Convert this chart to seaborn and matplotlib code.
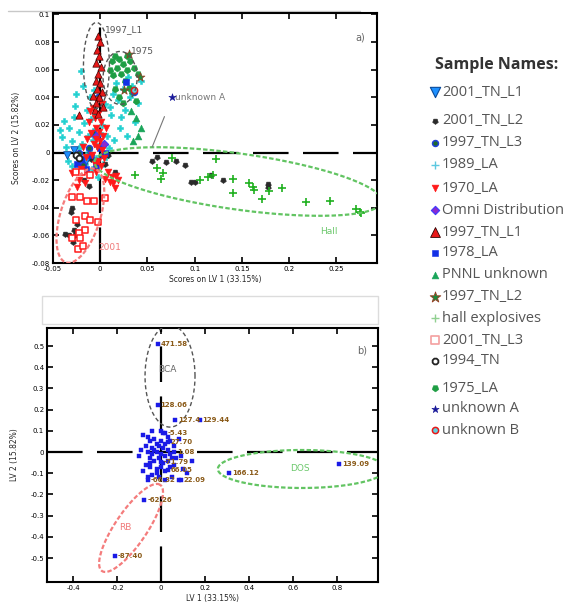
import numpy as np
import matplotlib
matplotlib.use("Agg")
import matplotlib.pyplot as plt
from matplotlib.patches import Rectangle
import seaborn as sns

# ---------------- panel a) scores on LV1 / LV2 ----------------
la1989_x = [-0.040, -0.036, -0.033, -0.030, -0.028, -0.027, -0.025, -0.023, -0.020, -0.019,
            -0.017, -0.016, -0.014, -0.013, -0.012, -0.011, -0.010, -0.009, -0.008, -0.007,
            -0.006, -0.005, -0.004, -0.003, -0.002, 0.002, 0.003, 0.005, 0.007, 0.009,
            0.011, 0.013, 0.015, 0.017, 0.019, 0.021, 0.024, 0.026, 0.029, 0.031,
            0.034, 0.037, 0.040, 0.043, -0.034, -0.030, -0.022, -0.018, -0.015, 0.000,
            0.006, 0.010, 0.022, 0.028, -0.026, -0.038, -0.043]
la1989_y = [0.011, 0.004, 0.018, 0.008, 0.026, 0.034, -0.003, 0.015, 0.059, 0.006,
            0.021, -0.008, 0.031, 0.012, 0.002, 0.040, 0.024, -0.012, 0.009, 0.045,
            0.017, -0.004, 0.028, 0.005, -0.018, 0.020, -0.008, 0.035, 0.012, 0.003,
            0.027, 0.042, 0.009, 0.050, 0.038, 0.018, 0.046, 0.031, 0.055, 0.040,
            0.048, 0.022, 0.036, 0.052, -0.006, -0.010, 0.003, 0.048, -0.002, 0.014,
            -0.003, 0.033, 0.026, 0.012, 0.042, 0.023, 0.016]

la1970_x = [-0.008, -0.006, -0.005, -0.004, -0.003, -0.002, -0.001, 0.000, 0.001, 0.002,
            0.003, -0.007, -0.010, -0.012, -0.009, -0.006, -0.004, -0.002, 0.004, 0.001,
            -0.014, -0.011, 0.006, -0.003, 0.002, -0.015, -0.018, -0.020, -0.022, -0.012,
            0.008, 0.012, 0.014, 0.017, 0.019, 0.016, 0.010, 0.005, -0.025, -0.016, -0.030]
la1970_y = [0.032, 0.025, 0.018, 0.010, 0.004, 0.028, 0.015, 0.008, 0.022, 0.002,
            0.012, 0.006, 0.014, 0.022, -0.002, -0.008, -0.014, -0.006, -0.004, -0.010,
            0.010, 0.030, 0.018, 0.038, 0.035, -0.003, 0.004, -0.012, -0.020, -0.016,
            -0.014, -0.018, -0.022, -0.017, -0.020, -0.026, -0.021, -0.019, -0.025, -0.022, -0.015]

tn1997_l1_x = [-0.002, 0.000, -0.003, -0.001, -0.004, 0.001, -0.002, -0.005, 0.000, -0.003,
               0.002, -0.001, -0.004, -0.006, -0.023, 0.003, -0.002, -0.008]
tn1997_l1_y = [0.084, 0.080, 0.074, 0.070, 0.065, 0.062, 0.057, 0.052, 0.050, 0.046,
               0.044, 0.040, 0.036, 0.031, 0.027, 0.033, 0.028, 0.041]

la1975_x = [0.012, 0.016, 0.020, 0.024, 0.028, 0.032, 0.036, 0.040, 0.010, 0.014,
            0.018, 0.022, 0.026, 0.030, 0.034, 0.038, 0.020, 0.016, 0.028, 0.024]
la1975_y = [0.066, 0.070, 0.068, 0.064, 0.070, 0.066, 0.061, 0.057, 0.060, 0.056,
            0.061, 0.057, 0.052, 0.047, 0.044, 0.037, 0.040, 0.046, 0.060, 0.036]

pnnl_x = [0.038, 0.040, 0.043, 0.035, 0.033]
pnnl_y = [0.025, 0.012, 0.018, 0.008, 0.030]

tn1997_l2_x = [0.030, 0.042, 0.025]
tn1997_l2_y = [0.071, 0.055, 0.045]

la1978_x = [0.027, -0.020, -0.010, 0.000, -0.015, -0.005, -0.025, 0.005]
la1978_y = [0.051, -0.005, -0.002, 0.003, -0.012, -0.010, -0.008, 0.000]

tn1997_l3_x = [-0.012, -0.004, -0.018, -0.008, 0.003, -0.022, -0.002, 0.036]
tn1997_l3_y = [0.003, -0.006, -0.009, 0.014, -0.002, 0.000, 0.040, 0.044]

tn2001_l1_x = [-0.015, -0.028, -0.035]
tn2001_l1_y = [-0.006, 0.002, -0.002]

omni_x = [-0.005, 0.004]
omni_y = [0.012, 0.006]

tn2001_l3_x = [-0.026, -0.019, -0.011, -0.030, -0.021, -0.014, -0.007, 0.005, -0.026, -0.016,
               -0.011, -0.016, -0.023, -0.030, -0.021, -0.024, -0.018, -0.002]
tn2001_l3_y = [-0.014, -0.014, -0.016, -0.032, -0.032, -0.035, -0.035, -0.033, -0.049, -0.046,
               -0.049, -0.056, -0.058, -0.062, -0.062, -0.070, -0.068, -0.050]

tn2001_l2_x = [-0.030, -0.031, -0.028, -0.027, -0.033, -0.029, -0.025, -0.037, -0.010, 0.005,
               0.008, -0.017, -0.012, 0.016, 0.055, 0.096, 0.090, 0.100, 0.117, 0.178,
               0.178, 0.060, 0.070, 0.080, 0.130]
tn2001_l2_y = [-0.040, -0.043, -0.056, -0.060, -0.060, -0.065, -0.052, -0.059, -0.005, -0.008,
               -0.002, -0.020, -0.024, -0.014, -0.006, -0.021, -0.009, -0.021, -0.016, -0.023,
               -0.025, -0.003, -0.007, -0.006, -0.020]

hall_x = [0.037, 0.060, 0.066, 0.064, 0.076, 0.106, 0.114, 0.119, 0.123, 0.141,
          0.141, 0.158, 0.162, 0.163, 0.171, 0.179, 0.192, 0.218, 0.243, 0.271,
          0.275, 0.276]
hall_y = [-0.016, -0.011, -0.015, -0.019, -0.004, -0.020, -0.018, -0.016, -0.005, -0.019,
          -0.029, -0.022, -0.025, -0.027, -0.034, -0.028, -0.026, -0.036, -0.035, -0.041,
          -0.043, -0.044]

tn1994_x = [-0.026, -0.022]
tn1994_y = [-0.002, -0.004]

unk_b_x = [0.036]
unk_b_y = [0.045]

unk_a_pos = (0.076, 0.040)

# ---------------- panel b) LV1 / LV2 with sample labels ----------------
b_cloud_x = [-0.08, -0.06, -0.05, -0.07, -0.04, -0.03, -0.02, -0.01, 0.00, 0.01,
             0.02, 0.03, -0.06, -0.04, -0.02, 0.00, 0.02, 0.04, -0.05, -0.03,
             -0.01, 0.01, 0.03, 0.05, -0.07, -0.05, -0.02, 0.00, 0.02, 0.04,
             0.06, -0.06, -0.04, -0.01, 0.02, 0.05, 0.08, 0.07, 0.09, 0.10,
             0.12, 0.14, -0.09, -0.10, -0.08, 0.01, 0.03, -0.04, 0.06, 0.08,
             -0.03, -0.05, 0.00, -0.02, 0.04]
b_cloud_y = [0.08, 0.07, 0.05, 0.03, 0.02, 0.06, 0.04, 0.03, 0.05, 0.02,
             0.04, 0.01, 0.00, -0.01, 0.00, -0.01, -0.02, -0.01, -0.03, -0.04,
             -0.03, -0.05, -0.04, -0.03, -0.06, -0.07, -0.08, -0.07, -0.09, -0.07,
             -0.06, -0.12, -0.11, -0.12, -0.13, -0.12, -0.13, -0.03, -0.02, -0.08,
             -0.10, -0.04, 0.01, -0.02, -0.09, 0.09, 0.07, 0.10, 0.03, 0.06,
             0.01, -0.05, 0.10, -0.10, 0.05]

b_lab_x = [-0.014, -0.014, 0.065, 0.175, 0.31, 0.81, -0.21, -0.075,
           0.02, 0.03, 0.06, 0.00, 0.03, -0.06, 0.09]
b_lab_y = [0.51, 0.22, 0.15, 0.15, -0.10, -0.056, -0.49, -0.225,
           0.09, 0.045, 0.0, -0.045, -0.085, -0.13, -0.13]
b_lab_txt = ["471.58", "128.06", "127.4", "129.44", "166.12", "139.09", "-87.40", "-62.26",
             "-5.43", "27.70", "1.08", "-71.79", "66.05", "-66.32", "22.09"]

# ---------------- legend entries ----------------
legend_names = ["2001_TN_L1", "2001_TN_L2", "1997_TN_L3", "1989_LA", "1970_LA",
                "Omni Distribution", "1997_TN_L1", "1978_LA", "PNNL unknown", "1997_TN_L2",
                "hall explosives", "2001_TN_L3", "1994_TN", "1975_LA", "unknown A", "unknown B"]

PENT_DOWN = (5, 0, 180)
styles = {
    "2001_TN_L1": dict(marker="v", color="#1e90ff", edgecolor="#0a4a9a", s=30, linewidth=0.6),
    "2001_TN_L2": dict(marker=PENT_DOWN, color="#2a2a2a", edgecolor="#2a2a2a", s=18, linewidth=0.4),
    "1997_TN_L3": dict(marker="o", color="#1f6a2a", edgecolor="#2040d8", s=18, linewidth=1.1),
    "1989_LA": dict(marker="P", color="#22d0d0", edgecolor="#22d0d0", s=20, linewidth=0.4),
    "1970_LA": dict(marker="v", color="#ff1a1a", edgecolor="#ff1a1a", s=24, linewidth=0.4),
    "Omni Distribution": dict(marker="D", color="#8a2ad0", edgecolor="#3a3aff", s=18, linewidth=0.8),
    "1997_TN_L1": dict(marker="^", color="#e81818", edgecolor="#400000", s=28, linewidth=0.5),
    "1978_LA": dict(marker="s", color="#1230e6", edgecolor="#1230e6", s=20, linewidth=0.4),
    "PNNL unknown": dict(marker="^", color="#1aa55a", edgecolor="#1aa55a", s=24, linewidth=0.4),
    "1997_TN_L2": dict(marker="*", color="#1c8a3c", edgecolor="#9a3a20", s=45, linewidth=0.5),
    "hall explosives": dict(marker="+", color="#1fb01f", s=40, linewidth=1.2),
    "2001_TN_L3": dict(marker="s", color="white", edgecolor="#ff1a1a", s=22, linewidth=1.1),
    "1994_TN": dict(marker="8", color="white", edgecolor="#222222", s=20, linewidth=1.3),
    "1975_LA": dict(marker=PENT_DOWN, color="#1f9e44", edgecolor="#1f9e44", s=24, linewidth=0.4),
    "unknown A": dict(marker="*", color="#1a1a9a", edgecolor="#1a1a9a", s=30, linewidth=0.4),
    "unknown B": dict(marker="o", color="#5fd0e0", edgecolor="#e81818", s=20, linewidth=1.1),
}

sns.set_style("ticks")
plt.rcParams["font.family"] = ["DejaVu Sans"]

W_PX, H_PX, DPI = 574, 606, 100
fig = plt.figure(figsize=(W_PX / DPI, H_PX / DPI), dpi=DPI)


def box(left, top, right, bottom):
    return [left / W_PX, 1 - bottom / H_PX, (right - left) / W_PX, (bottom - top) / H_PX]


# background overlay in pixel units for rules, the empty caption box and the key
bg = fig.add_axes([0, 0, 1, 1], zorder=0)
bg.set_xlim(0, W_PX)
bg.set_ylim(H_PX, 0)
bg.axis("off")
bg.plot([8, 360], [11, 11], color="#c8c8c8", lw=1.0)
bg.add_patch(Rectangle((42, 296), 336, 28, fill=False, edgecolor="#dcdcdc", lw=1.0))

ax1 = fig.add_axes(box(53, 13, 377, 263), zorder=2)
ax2 = fig.add_axes(box(47, 328, 378, 582), zorder=2)
ax1.set_xlim(-0.05, 0.293)
ax1.set_ylim(-0.08, 0.101)
ax2.set_xlim(-0.518, 0.986)
ax2.set_ylim(-0.613, 0.585)


def ring(ax, cx, cy, w_px, h_px, angle, **kw):
    """Ellipse given in screen pixels, centred on a data point."""
    bb = ax.get_position()
    wpx = bb.width * W_PX
    hpx = bb.height * H_PX
    x0, x1 = ax.get_xlim()
    y0, y1 = ax.get_ylim()
    sx, sy = wpx / (x1 - x0), hpx / (y1 - y0)
    t = np.linspace(0, 2 * np.pi, 240)
    a = np.radians(angle)
    u, v = w_px / 2 * np.cos(t), h_px / 2 * np.sin(t)
    px = u * np.cos(a) - v * np.sin(a)
    py = u * np.sin(a) + v * np.cos(a)
    ax.plot(cx + px / sx, cy + py / sy, **kw)


def zero_lines(ax):
    ax.axhline(0, color="black", lw=1.6, dashes=(16, 6.5), zorder=1)
    ax.axvline(0, color="black", lw=1.6, dashes=(16, 6.5), zorder=1)


def pts(ax, xs, ys, name, zorder=3):
    st = dict(styles[name])
    sns.scatterplot(x=xs, y=ys, ax=ax, legend=False, zorder=zorder, **st)


# ---- panel a ----
zero_lines(ax1)
pts(ax1, la1989_x, la1989_y, "1989_LA")
pts(ax1, tn2001_l2_x, tn2001_l2_y, "2001_TN_L2")
pts(ax1, hall_x, hall_y, "hall explosives")
pts(ax1, la1975_x, la1975_y, "1975_LA")
pts(ax1, pnnl_x, pnnl_y, "PNNL unknown")
pts(ax1, tn1997_l2_x, tn1997_l2_y, "1997_TN_L2")
pts(ax1, tn2001_l1_x, tn2001_l1_y, "2001_TN_L1")
pts(ax1, tn1997_l3_x, tn1997_l3_y, "1997_TN_L3")
pts(ax1, la1978_x, la1978_y, "1978_LA")
pts(ax1, omni_x, omni_y, "Omni Distribution")
pts(ax1, la1970_x, la1970_y, "1970_LA")
pts(ax1, tn1997_l1_x, tn1997_l1_y, "1997_TN_L1")
pts(ax1, tn2001_l3_x, tn2001_l3_y, "2001_TN_L3")
pts(ax1, tn1994_x, tn1994_y, "1994_TN")
pts(ax1, unk_b_x, unk_b_y, "unknown B")

ring(ax1, -0.004, 0.063, 26, 86, 0, color="#555555", lw=1.0, dashes=(3, 2), zorder=4)
ring(ax1, 0.021, 0.054, 34, 53, 0, color="#555555", lw=1.0, dashes=(3, 2), zorder=4)
ring(ax1, 0.146, -0.021, 290, 56, -8, color="#62c462", lw=1.6, dashes=(2, 1), zorder=4)
ring(ax1, -0.021, -0.0457, 98, 40, 73, color="#f47c7c", lw=1.6, dashes=(2, 1), zorder=4)

ax1.text(0.0055, 0.089, "1997_L1", fontsize=6.5, color="#555555", va="center")
ax1.text(0.032, 0.073, "1975", fontsize=6.5, color="#555555", va="center")
ax1.text(0.233, -0.057, "Hall", fontsize=6.5, color="#6cc86c", va="center")
ax1.text(-0.002, -0.069, "2001", fontsize=6.5, color="#f07a7a", va="center")
ax1.text(0.270, 0.083, "a)", fontsize=7, color="#666666", va="center")

# unknown A marker with its leader line
ax1.plot([0.068, 0.055], [0.026, 0.004], color="#777777", lw=0.8, zorder=4)
sns.scatterplot(x=[unk_a_pos[0]], y=[unk_a_pos[1]], ax=ax1, legend=False, zorder=5,
                **styles["unknown A"])
ax1.text(unk_a_pos[0] + 0.003, unk_a_pos[1], "unknown A", fontsize=6.5,
         color="#777777", va="center")

ax1.set_xticks([-0.05, 0, 0.05, 0.1, 0.15, 0.2, 0.25])
ax1.set_xticklabels(["-0.05", "0", "0.05", "0.1", "0.15", "0.2", "0.25"])
ax1.set_yticks([-0.08, -0.06, -0.04, -0.02, 0, 0.02, 0.04, 0.06, 0.08, 0.1])
ax1.set_yticklabels(["-0.08", "-0.06", "-0.04", "-0.02", "0", "0.02", "0.04", "0.06", "0.08", "0.1"])
ax1.set_xlabel("Scores on LV 1 (33.15%)", fontsize=5.5, labelpad=2)
ax1.set_ylabel("Scores on LV 2 (15.82%)", fontsize=5.5, labelpad=8)

# ---- panel b ----
zero_lines(ax2)
ring(ax2, 0.041, 0.358, 50, 102, 0, color="#555555", lw=1.0, dashes=(3, 2), zorder=4)
ring(ax2, -0.136, -0.358, 104, 32, 56, color="#f47c7c", lw=1.6, dashes=(2, 1), zorder=4)
ring(ax2, 0.64, -0.08, 168, 38, 0, color="#62c462", lw=1.6, dashes=(2, 1), zorder=4)

sns.scatterplot(x=b_cloud_x, y=b_cloud_y, ax=ax2, legend=False, zorder=3,
                marker="s", color="#1a1ae6", edgecolor="#1a1ae6", s=12, linewidth=0.3)
sns.scatterplot(x=b_lab_x, y=b_lab_y, ax=ax2, legend=False, zorder=3,
                marker="s", color="#1a1ae6", edgecolor="#1a1ae6", s=10, linewidth=0.3)
for x, y, t in zip(b_lab_x, b_lab_y, b_lab_txt):
    ax2.text(x + 0.012, y, t, fontsize=5, color="#8a5a18", va="center", zorder=5,
             fontweight="bold")

ax2.text(0.03, 0.39, "BCA", fontsize=6.5, color="#666666", ha="center", va="center")
ax2.text(-0.16, -0.355, "RB", fontsize=6.5, color="#f07a7a", ha="center", va="center")
ax2.text(0.63, -0.08, "DOS", fontsize=6.5, color="#6cc86c", ha="center", va="center")
ax2.text(0.89, 0.48, "b)", fontsize=7, color="#666666", va="center")

ax2.set_xticks([-0.4, -0.2, 0, 0.2, 0.4, 0.6, 0.8])
ax2.set_xticklabels(["-0.4", "-0.2", "0", "0.2", "0.4", "0.6", "0.8"])
ax2.set_yticks([-0.5, -0.4, -0.3, -0.2, -0.1, 0, 0.1, 0.2, 0.3, 0.4, 0.5])
ax2.set_yticklabels(["-0.5", "-0.4", "-0.3", "-0.2", "-0.1", "0", "0.1", "0.2", "0.3", "0.4", "0.5"])
ax2.set_xlabel("LV 1 (33.15%)", fontsize=5.5, labelpad=2)
ax2.set_ylabel("LV 2 (15.82%)", fontsize=5.5, labelpad=8)

for ax in (ax1, ax2):
    for sp in ax.spines.values():
        sp.set_linewidth(1.5)
        sp.set_color("black")
        sp.set_visible(True)
    ax.tick_params(direction="in", length=4, width=1.2, labelsize=5, pad=2,
                   top=True, right=True, colors="black")

# ---- key on the right ----
bg.text(497, 65, "Sample Names:", fontsize=11.5, fontweight="bold", color="#333333",
        ha="center", va="center", family=["Open Sans", "DejaVu Sans"])
key_rows = [92, 121, 143, 165, 188, 210, 232, 253, 275, 297, 318, 340, 361, 388, 409, 430]
key_style = dict(styles)
key_style["2001_TN_L1"] = dict(marker="v", color="#1e90ff", edgecolor="#0a4a9a", s=55, linewidth=0.8)
key_style["1997_TN_L1"] = dict(marker="^", color="#e81818", edgecolor="#300000", s=50, linewidth=0.6)
key_style["1997_TN_L2"] = dict(marker="*", color="#1c8a3c", edgecolor="#9a3a20", s=65, linewidth=0.6)
key_style["1989_LA"] = dict(marker="+", color="#5cc8e0", s=40, linewidth=1.0)
key_style["hall explosives"] = dict(marker="+", color="#90d090", s=40, linewidth=1.0)
key_style["2001_TN_L3"] = dict(marker="s", color="white", edgecolor="#f4a0a0", s=30, linewidth=1.2)
for name, yy in zip(legend_names, key_rows):
    st = dict(key_style[name])
    sns.scatterplot(x=[435], y=[yy], ax=bg, legend=False, zorder=3, **st)
    bg.text(442, yy, name, fontsize=10.5, color="#555555", va="center",
            family=["Open Sans", "DejaVu Sans"])
bg.set_xlim(0, W_PX)
bg.set_ylim(H_PX, 0)

fig.savefig("out.png", dpi=DPI)
